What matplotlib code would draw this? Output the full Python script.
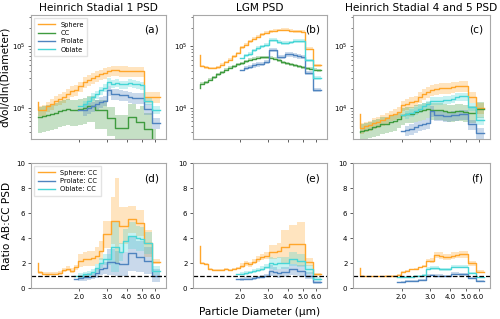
import numpy as np
import matplotlib
matplotlib.use("Agg")
import matplotlib.pyplot as plt
from matplotlib.ticker import NullLocator, FixedLocator, FixedFormatter

nan = np.nan

# bin edges (um); value lists: [start point, bin0 ... bin29]
edges = [1.10, 1.167, 1.238, 1.314, 1.394, 1.479, 1.569, 1.665, 1.767, 1.875, 1.989,
         2.110, 2.239, 2.376, 2.521, 2.675, 2.838, 3.011, 3.195, 3.390, 3.597,
         3.816, 4.049, 4.296, 4.558, 4.836, 5.131, 5.444, 5.776, 6.128, 6.502]

titles = ["Heinrich Stadial 1 PSD", "LGM PSD", "Heinrich Stadial 4 and 5 PSD"]
top_labels = ["(a)", "(b)", "(c)"]
bot_labels = ["(d)", "(e)", "(f)"]
xticks = [2.0, 3.0, 4.0, 5.0, 6.0]

# --- PSD, Heinrich Stadial 1 ---
sphere_a = [1.24e4, 9.05e3, 9.28e3, 1.05e4, 1.16e4, 1.31e4, 1.40e4, 1.49e4, 1.69e4, 1.86e4, 1.96e4,
            2.22e4, 2.61e4, 2.84e4, 3.06e4, 3.30e4, 3.47e4, 3.65e4, 3.88e4, 4.03e4, 4.03e4,
            3.93e4, 3.93e4, 3.88e4, 3.88e4, 3.88e4, 3.88e4, 1.49e4, 1.49e4, 1.49e4, 1.49e4]
cc_a = [7.06e3, 7.06e3, 7.23e3, 7.51e3, 7.80e3, 8.19e3, 8.83e3, 9.05e3, 9.63e3, 9.05e3, 9.28e3,
        9.51e3, 9.75e3, 1.05e4, 1.05e4, 9.05e3, 9.05e3, 9.05e3, 6.9e3, 6.9e3, 4.7e3,
        4.7e3, 4.7e3, 7.2e3, 7.2e3, 5.9e3, 5.9e3, 4.6e3, 4.6e3, 2.5e3, nan]
prolate_a = [nan] * 11 + [9.05e3, 9.28e3, 1.0e4, 1.05e4, 1.13e4, 1.24e4, 1.31e4, 1.91e4, 1.65e4, 1.65e4,
                          1.63e4, 1.58e4, 1.49e4, 1.45e4, 1.45e4, 1.45e4, 9.63e3, 9.63e3, 5.71e3, 5.71e3]
oblate_a = [nan] * 11 + [1.05e4, 1.13e4, 1.31e4, 1.49e4, 1.65e4, 1.91e4, 2.11e4, 2.61e4, 2.45e4, 2.51e4,
                         2.39e4, 2.39e4, 2.51e4, 2.45e4, 2.39e4, 2.30e4, 1.31e4, 1.31e4, 9.28e3, 9.28e3]
err_sphere_a = [0.2] * 31
err_cc_a = [0.45] * 15 + [0.5] * 5 + [0.6] * 6 + [0.8] * 5
err_prolate_a = [0.2] * 31
err_oblate_a = [0.15] * 31

# --- PSD, LGM ---
sphere_b = [7.06e4, 4.74e4, 4.56e4, 4.40e4, 4.40e4, 4.56e4, 4.98e4, 5.50e4, 6.00e4, 6.80e4, 7.70e4,
            9.63e4, 1.06e5, 1.19e5, 1.32e5, 1.43e5, 1.55e5, 1.65e5, 1.75e5, 1.79e5, 1.82e5,
            1.84e5, 1.84e5, 1.79e5, 1.75e5, 1.73e5, 1.71e5, 9.06e4, 9.06e4, 4.85e4, 4.85e4]
cc_b = [2.11e4, 2.45e4, 2.61e4, 2.84e4, 3.14e4, 3.47e4, 3.79e4, 4.13e4, 4.45e4, 4.68e4, 5.05e4,
        5.30e4, 5.64e4, 6.00e4, 6.23e4, 6.47e4, 6.63e4, 6.63e4, 6.47e4, 6.23e4, 5.86e4,
        5.50e4, 5.30e4, 5.05e4, 4.85e4, 4.68e4, 4.56e4, 4.40e4, 4.29e4, 4.13e4, 4.03e4]
prolate_b = [nan] * 11 + [4.03e4, 4.40e4, 4.56e4, 4.85e4, 5.05e4, 5.18e4, 5.50e4, 8.73e4, 8.73e4, 6.63e4,
                          6.63e4, 7.33e4, 7.33e4, 7.06e4, 6.80e4, 6.63e4, 3.65e4, 3.65e4, 1.96e4, 1.96e4]
oblate_b = [nan] * 11 + [6.47e4, 7.06e4, 7.51e4, 8.51e4, 9.29e4, 9.89e4, 1.06e5, 1.27e5, 1.27e5, 1.16e5,
                         1.12e5, 1.12e5, 1.15e5, 1.20e5, 1.20e5, 1.20e5, 5.86e4, 5.86e4, 3.06e4, 3.06e4]
err_sphere_b = [0.05] * 31
err_cc_b = [0.06] * 31
err_prolate_b = [0.08] * 31
err_oblate_b = [0.07] * 31

# --- PSD, Heinrich Stadial 4 and 5 ---
sphere_c = [8.0e3, 4.74e3, 4.98e3, 5.17e3, 5.64e3, 5.86e3, 6.39e3, 6.89e3, 7.51e3, 8.0e3, 8.51e3,
            1.09e4, 1.16e4, 1.24e4, 1.31e4, 1.49e4, 1.69e4, 1.80e4, 1.96e4, 2.03e4, 2.08e4,
            2.11e4, 2.11e4, 2.16e4, 2.22e4, 2.25e4, 2.25e4, 1.49e4, 1.49e4, 1.0e4, 1.0e4]
cc_c = [4.03e3, 4.19e3, 4.40e3, 4.56e3, 4.86e3, 4.98e3, 5.37e3, 5.50e3, 5.86e3, 6.08e3, 6.63e3,
        7.51e3, 8.0e3, 8.0e3, 8.51e3, 8.83e3, 9.05e3, 9.63e3, 9.05e3, 9.05e3, 9.05e3,
        8.72e3, 8.51e3, 8.51e3, 8.83e3, 8.83e3, 8.51e3, 8.19e3, 8.19e3, 9.63e3, 9.63e3]
prolate_c = [nan] * 11 + [4.19e3, 4.29e3, 4.56e3, 4.86e3, 5.17e3, 5.37e3, 5.64e3, 8.83e3, 7.51e3, 7.51e3,
                          7.23e3, 7.23e3, 7.51e3, 7.51e3, 7.80e3, 7.80e3, 5.37e3, 5.37e3, 3.88e3, 3.88e3]
oblate_c = [nan] * 11 + [7.51e3, 7.80e3, 8.19e3, 8.83e3, 9.63e3, 1.05e4, 1.13e4, 1.31e4, 1.28e4, 1.31e4,
                         1.35e4, 1.35e4, 1.40e4, 1.49e4, 1.53e4, 1.53e4, 1.03e4, 1.03e4, 6.24e3, 6.24e3]
err_sphere_c = [0.2] * 31
err_cc_c = [0.3] * 31
err_prolate_c = [0.2] * 31
err_oblate_c = [0.15] * 31

# --- Ratio AB:CC ---
rs_d = [2.0, 1.25, 1.15, 1.12, 1.15, 1.15, 1.2, 1.45, 1.55, 1.4, 1.65,
        2.2, 2.3, 2.35, 2.4, 2.6, 3.0, 4.3, 4.3, 5.4, 5.4,
        5.0, 5.0, 5.5, 5.5, 5.2, 5.2, 3.6, 3.6, 2.1, 2.1]
rp_d = [nan] * 10 + [0.75, 0.8, 0.85, 0.9, 1.0, 1.2, 1.5, 1.6, 2.1, 2.1, 2.0,
                     1.9, 1.9, 2.8, 2.8, 2.5, 2.5, 2.2, 2.2, 1.0, 1.0]
ro_d = [nan] * 10 + [0.95, 1.0, 1.1, 1.15, 1.3, 1.6, 2.0, 2.3, 2.3, 3.3, 3.3,
                     2.9, 3.8, 4.2, 4.2, 4.0, 3.9, 3.6, 3.6, 1.4, 1.4]
err_rs_d = [0.12] * 11 + [0.25] * 8 + [0.35, 0.63, 0.3, 0.3, 0.2, 0.2, 0.2, 0.2, 0.3, 0.3, 0.1, 0.1]
err_rp_d = [0.3] * 18 + [0.5] * 13
err_ro_d = [0.2] * 19 + [0.6, 0.6] + [0.25] * 10

rs_e = [3.4, 2.0, 1.9, 1.55, 1.45, 1.45, 1.45, 1.5, 1.45, 1.55, 1.6,
        1.8, 2.0, 1.9, 2.1, 2.3, 2.5, 2.6, 2.9, 2.9, 3.0,
        3.3, 3.3, 3.5, 3.5, 3.5, 3.5, 2.1, 2.1, 1.1, 1.1]
rp_e = [nan] * 10 + [0.7, 0.7, 0.75, 0.75, 0.8, 0.85, 0.9, 1.0, 1.4, 1.3, 1.2,
                     1.3, 1.3, 1.5, 1.5, 1.4, 1.4, 1.0, 1.0, 0.45, 0.45]
ro_e = [nan] * 10 + [1.1, 1.15, 1.2, 1.25, 1.35, 1.45, 1.55, 1.7, 2.0, 1.95, 2.0,
                     2.0, 2.0, 2.3, 2.3, 2.2, 2.2, 1.5, 1.5, 0.7, 0.7]
err_rs_e = [0.05] * 11 + [0.1] * 7 + [0.2, 0.2, 0.2, 0.4, 0.4, 0.45, 0.45, 0.5, 0.5, 0.15, 0.15, 0.1, 0.1]
err_rp_e = [0.15] * 18 + [0.3] * 13
err_ro_e = [0.12] * 18 + [0.25] * 13

rs_f = [1.6, 1.0, 0.95, 0.95, 0.95, 0.95, 0.95, 1.0, 1.0, 1.0, 1.05,
        1.3, 1.4, 1.5, 1.55, 1.65, 1.8, 2.2, 2.2, 2.65, 2.6,
        2.5, 2.5, 2.6, 2.65, 2.7, 2.7, 2.0, 2.0, 1.3, 1.3]
rp_f = [nan] * 10 + [0.5, 0.5, 0.55, 0.55, 0.6, 0.65, 0.65, 1.0, 1.05, 1.0, 1.0,
                     0.95, 0.95, 1.15, 1.15, 1.1, 1.1, 0.8, 0.8, 0.55, 0.55]
ro_f = [nan] * 10 + [0.85, 0.85, 0.9, 0.9, 0.95, 1.0, 1.05, 1.55, 1.6, 1.6, 1.5,
                     1.5, 1.5, 1.7, 1.7, 1.7, 1.7, 1.2, 1.2, 0.85, 0.85]
err_rs_f = [0.04] * 18 + [0.1] * 13
err_rp_f = [0.1] * 31
err_ro_f = [0.08] * 31

C_SPH = "#ffa62b"
C_CC = "#3f9b3f"
C_PRO = "#4f84bf"
C_OBL = "#48d6d6"
SPINE = "#a8a8a8"


def draw(ax, vals, err, color, label):
    v = np.array(vals, dtype=float)
    e = np.array(err, dtype=float)
    lo = v * (1 - e)
    hi = v * (1 + e)
    ax.fill_between(edges, lo, hi, step="pre", color=color, alpha=0.3, lw=0)
    ax.step(edges, v, where="pre", color=color, lw=1.0, label=label)


def style(ax, bottom):
    ax.set_xscale("log")
    ax.set_xlim(1.0, 7.07)
    ax.xaxis.set_major_locator(FixedLocator(xticks))
    ax.xaxis.set_minor_locator(NullLocator())
    if bottom:
        ax.xaxis.set_major_formatter(FixedFormatter(["%.1f" % t for t in xticks]))
    else:
        ax.xaxis.set_major_formatter(FixedFormatter([""] * len(xticks)))
    ax.tick_params(labelsize=5, length=2.5, width=0.6, color="#444444", pad=1.5)
    ax.tick_params(which="minor", length=1.5, width=0.5, color="#444444")
    for s in ax.spines.values():
        s.set_color(SPINE)
        s.set_linewidth(0.8)


fig = plt.figure(figsize=(5, 3.19), dpi=100)
cols = [(0.062, 0.270), (0.386, 0.268), (0.706, 0.274)]

psd = [(sphere_a, cc_a, prolate_a, oblate_a, err_sphere_a, err_cc_a, err_prolate_a, err_oblate_a),
       (sphere_b, cc_b, prolate_b, oblate_b, err_sphere_b, err_cc_b, err_prolate_b, err_oblate_b),
       (sphere_c, cc_c, prolate_c, oblate_c, err_sphere_c, err_cc_c, err_prolate_c, err_oblate_c)]
ratios = [(rs_d, rp_d, ro_d, err_rs_d, err_rp_d, err_ro_d),
          (rs_e, rp_e, ro_e, err_rs_e, err_rp_e, err_ro_e),
          (rs_f, rp_f, ro_f, err_rs_f, err_rp_f, err_ro_f)]

for i, (left, width) in enumerate(cols):
    # top row: PSD
    ax = fig.add_axes([left, 0.564, width, 0.389])
    s, c, p, o, es, ec, ep, eo = psd[i]
    draw(ax, s, es, C_SPH, "Sphere")
    draw(ax, c, ec, C_CC, "CC")
    draw(ax, p, ep, C_PRO, "Prolate")
    draw(ax, o, eo, C_OBL, "Oblate")
    ax.set_yscale("log")
    ax.set_ylim(3.1e3, 3.2e5)
    style(ax, False)
    ax.set_title(titles[i], fontsize=7.6, pad=3)
    ax.text(0.95, 0.88, top_labels[i], transform=ax.transAxes, ha="right", va="center", fontsize=7.6)
    if i == 0:
        ax.set_ylabel("dVol/dln(Diameter)", fontsize=7.6, labelpad=1)
        ax.legend(loc="upper left", fontsize=4.8, handlelength=2.6, frameon=True,
                  borderpad=0.5, labelspacing=0.35, edgecolor="#dddddd", fancybox=False)

    # bottom row: ratios
    ax = fig.add_axes([left, 0.097, width, 0.392])
    rs, rp, ro, ers, erp, ero = ratios[i]
    draw(ax, rs, ers, C_SPH, "Sphere: CC")
    draw(ax, rp, erp, C_PRO, "Prolate: CC")
    draw(ax, ro, ero, C_OBL, "Oblate: CC")
    ax.axhline(1.0, color="black", ls="--", lw=0.9)
    ax.set_ylim(0, 10)
    ax.set_yticks([0, 2, 4, 6, 8, 10])
    style(ax, True)
    ax.text(0.95, 0.88, bot_labels[i], transform=ax.transAxes, ha="right", va="center", fontsize=7.6)
    if i == 0:
        ax.set_ylabel("Ratio AB:CC PSD", fontsize=7.6, labelpad=3)
        ax.legend(loc="upper left", fontsize=4.8, handlelength=2.6, frameon=True,
                  borderpad=0.5, labelspacing=0.35, edgecolor="#dddddd", fancybox=False)
    if i == 1:
        ax.set_xlabel("Particle Diameter (\u00b5m)", fontsize=7.6, labelpad=5)

fig.savefig("out.png", dpi=100)
